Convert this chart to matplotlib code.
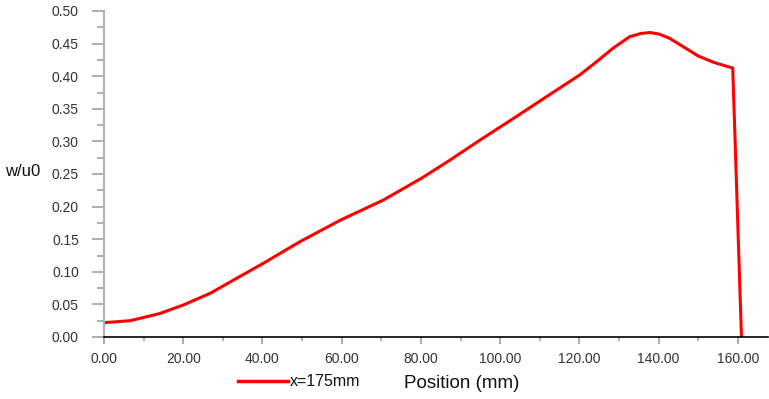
import matplotlib
matplotlib.use("Agg")
import matplotlib.pyplot as plt
from matplotlib.ticker import MultipleLocator, FormatStrFormatter

plt.rcParams['font.family'] = ['Liberation Sans', 'DejaVu Sans']

# data
position = [0, 6.6, 14.1, 20, 26.8, 32.6, 40.2, 49.4, 59.6, 70.5, 80, 87, 94.9,
            103.3, 111.7, 120.1, 124.3, 128.5, 132.7, 135.5, 137.8, 140.2,
            142.8, 146, 150, 154, 158.7, 160.9]
w_u0 = [0.022, 0.025, 0.036, 0.049, 0.067, 0.087, 0.113, 0.146, 0.179, 0.210,
        0.243, 0.270, 0.302, 0.335, 0.3686, 0.402, 0.422, 0.443, 0.4606, 0.4655,
        0.467, 0.4645, 0.458, 0.446, 0.431, 0.421, 0.4125, 0.0]
series_label = "x=175mm"

fig = plt.figure(figsize=(7.69, 3.99), dpi=100)
ax = fig.add_axes([104/769, 1-337/399, (768-104)/769, (337-11)/399])

ax.plot(position, w_u0, color='#ff0000', lw=2.2, solid_joinstyle='round')

ax.set_xlim(0, 167.6)
ax.set_ylim(0, 0.5)
ax.xaxis.set_major_locator(MultipleLocator(20))
ax.xaxis.set_minor_locator(MultipleLocator(10))
ax.yaxis.set_major_locator(MultipleLocator(0.05))
ax.yaxis.set_minor_locator(MultipleLocator(0.025))
ax.xaxis.set_major_formatter(FormatStrFormatter('%.2f'))
ax.yaxis.set_major_formatter(FormatStrFormatter('%.2f'))

for s in ['top', 'right']:
    ax.spines[s].set_visible(False)
ax.spines['left'].set_color('#b0b0b0')
ax.spines['left'].set_linewidth(1.5)
ax.spines['bottom'].set_color('black')
ax.spines['bottom'].set_linewidth(1.2)

ax.tick_params(axis='y', which='major', length=9, width=1.2, color='#a0a0a0',
               labelsize=10, labelcolor='#333333', pad=9)
ax.tick_params(axis='y', which='minor', length=5, width=1.2, color='#a0a0a0')
ax.tick_params(axis='x', which='major', length=5, width=1.2, color='#a0a0a0',
               labelsize=10, labelcolor='#333333', pad=6)
ax.tick_params(axis='x', which='minor', length=3, width=1.2, color='#a0a0a0')

fig.text(5/769, 1-172/399, 'w/u0', fontsize=12, color='#111111',
         ha='left', va='center')
fig.text(462/769, 1-383/399, 'Position (mm)', fontsize=13.5, color='#111111',
         ha='center', va='center')

fig.lines.append(plt.Line2D([238/769, 288/769], [1-381/399, 1-381/399],
                            transform=fig.transFigure, color='#ff0000', lw=2.5))
fig.text(290/769, 1-381/399, series_label, fontsize=11.5, color='#111111',
         ha='left', va='center')

fig.savefig('out.png', dpi=100)
